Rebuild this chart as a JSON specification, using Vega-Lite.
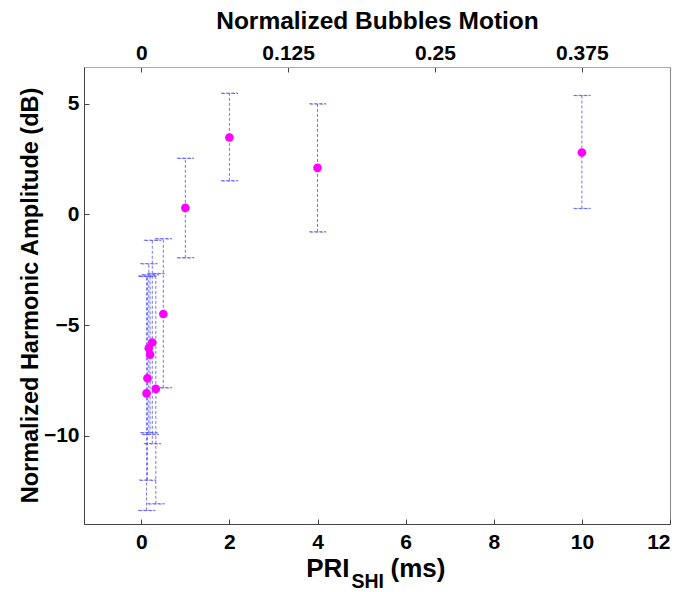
{
  "$schema": "https://vega.github.io/schema/vega-lite/v6.json",
  "autosize": {"type": "none"},
  "padding": {"left": 84, "top": 67, "right": 13, "bottom": 67},
  "width": 586,
  "height": 457,
  "config": {
    "view": {"stroke": "#888888", "strokeWidth": 1},
    "font": "Liberation Sans",
    "axis": {
      "labelFont": "Liberation Sans",
      "labelFontSize": 21,
      "labelFontWeight": "bold",
      "labelColor": "#000000",
      "titleFont": "Liberation Sans",
      "titleFontWeight": "bold",
      "titleColor": "#000000",
      "grid": false,
      "domainColor": "#444444",
      "tickColor": "#444444"
    }
  },
  "datasets": {
    "main": [
      {"ms": 0.12, "amp": -8.09, "lo": -13.39, "hi": -2.79},
      {"ms": 0.14, "amp": -7.41, "lo": -12.02, "hi": -2.80},
      {"ms": 0.17, "amp": -6.05, "lo": -9.87, "hi": -2.23},
      {"ms": 0.20, "amp": -6.34, "lo": -9.95, "hi": -2.73},
      {"ms": 0.25, "amp": -5.79, "lo": -10.37, "hi": -1.17},
      {"ms": 0.33, "amp": -7.89, "lo": -13.09, "hi": -2.67},
      {"ms": 0.50, "amp": -4.50, "lo": -7.84, "hi": -1.10},
      {"ms": 1, "amp": 0.30, "lo": -1.96, "hi": 2.54},
      {"ms": 2, "amp": 3.48, "lo": 1.52, "hi": 5.48},
      {"ms": 4, "amp": 2.11, "lo": -0.79, "hi": 5.00},
      {"ms": 10, "amp": 2.80, "lo": 0.27, "hi": 5.38}
    ],
    "top": [{"nb": 0}, {"nb": 0.375}],
    "dummy": [{"v": 0}]
  },
  "layer": [
    {
      "data": {"name": "main"},
      "encoding": {
        "x": {
          "field": "ms", "type": "quantitative",
          "scale": {"domain": [-1.3, 12], "nice": false, "zero": false},
          "axis": {
            "orient": "bottom",
            "values": [0, 2, 4, 6, 8, 10, 12],
            "tickSize": -5,
            "labelPadding": 12,
            "labelFontSize": 21,
            "labelFontWeight": "bold",
            "labelColor": "#000000",
            "title": "PRI",
            "titleFontSize": 26,
            "titleAlign": "right",
            "titleBaseline": "alphabetic",
            "titleX": 265,
            "titleY": 52
          }
        }
      },
      "layer": [
        {
          "mark": {"type": "rule", "color": "#5a5aff", "strokeWidth": 1, "strokeDash": [3, 2], "opacity": 0.85},
          "encoding": {
            "y": {
              "field": "lo", "type": "quantitative",
              "scale": {"domain": [-14, 6.67], "nice": false, "zero": false},
              "axis": {
                "values": [-10, -5, 0, 5],
                "tickSize": -5,
                "labelPadding": 10,
                "labelFontSize": 21,
                "labelFontWeight": "bold",
                "labelColor": "#000000",
                "title": "Normalized Harmonic Amplitude (dB)",
                "titleFontSize": 23.5,
                "titleAngle": -90,
                "titleAlign": "center",
                "titleBaseline": "middle",
                "titleX": -54,
                "titleY": 228
              }
            },
            "y2": {"field": "hi"}
          }
        },
        {
          "mark": {"type": "tick", "orient": "horizontal", "filled": false, "stroke": "#5a5aff", "strokeWidth": 1, "strokeDash": [3, 2], "size": 17, "thickness": 0.3, "opacity": 0.85},
          "encoding": {"y": {"field": "hi", "type": "quantitative"}}
        },
        {
          "mark": {"type": "tick", "orient": "horizontal", "filled": false, "stroke": "#5a5aff", "strokeWidth": 1, "strokeDash": [3, 2], "size": 17, "thickness": 0.3, "opacity": 0.85},
          "encoding": {"y": {"field": "lo", "type": "quantitative"}}
        },
        {
          "mark": {"type": "point", "filled": true, "color": "#ff00ff", "size": 75, "opacity": 1},
          "encoding": {"y": {"field": "amp", "type": "quantitative"}}
        }
      ]
    },
    {
      "data": {"name": "top"},
      "mark": {"type": "point", "opacity": 0},
      "encoding": {
        "x": {
          "field": "nb", "type": "quantitative",
          "scale": {"domain": [-0.04875, 0.45], "nice": false, "zero": false},
          "axis": {
            "orient": "top",
            "values": [0, 0.125, 0.25, 0.375],
            "labelExpr": "toString(datum.value)",
            "tickSize": -5,
            "labelPadding": 9,
            "labelFontSize": 21,
            "labelFontWeight": "bold",
            "labelColor": "#000000",
            "domainColor": "#aaaaaa",
            "title": "Normalized Bubbles Motion",
            "titleFontSize": 24.5,
            "titleAlign": "center",
            "titleBaseline": "alphabetic",
            "titleX": 293,
            "titleY": -39
          }
        }
      }
    },
    {
      "data": {"name": "dummy"},
      "mark": {"type": "point", "opacity": 0},
      "encoding": {
        "x": {
          "field": "v", "type": "quantitative",
          "axis": {
            "orient": "bottom",
            "domain": false, "ticks": false, "labels": false,
            "title": "SHI",
            "titleFontSize": 19.5,
            "titleAlign": "left",
            "titleBaseline": "alphabetic",
            "titleX": 267,
            "titleY": 63
          }
        }
      }
    },
    {
      "data": {"name": "dummy"},
      "mark": {"type": "point", "opacity": 0},
      "encoding": {
        "x": {
          "field": "v", "type": "quantitative",
          "axis": {
            "orient": "bottom",
            "domain": false, "ticks": false, "labels": false,
            "title": "(ms)",
            "titleFontSize": 26,
            "titleAlign": "left",
            "titleBaseline": "alphabetic",
            "titleX": 306,
            "titleY": 52
          }
        }
      }
    }
  ],
  "resolve": {"scale": {"x": "independent"}, "axis": {"x": "independent"}}
}
